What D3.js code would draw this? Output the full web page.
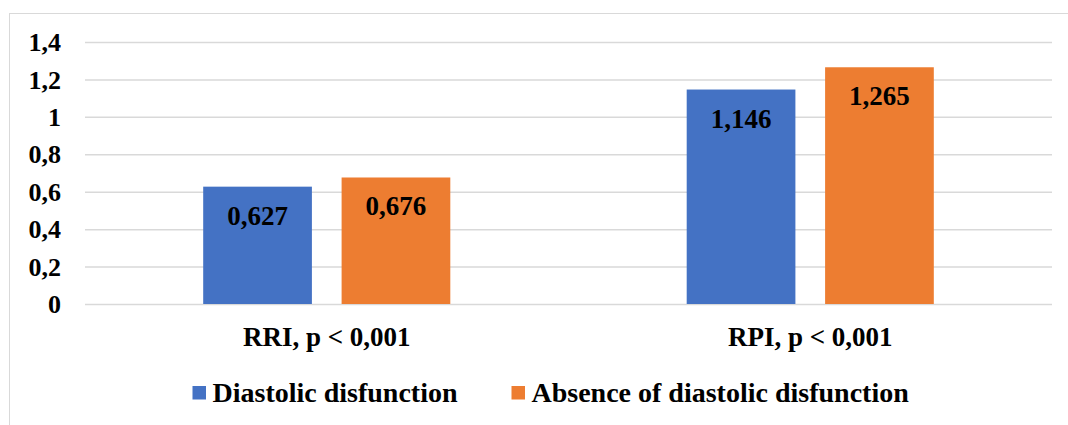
<!DOCTYPE html>
<html>
<head>
<meta charset="utf-8">
<script src="https://cdn.jsdelivr.net/npm/d3@7"></script>
<style>
  html, body { margin: 0; padding: 0; background: #ffffff; }
  svg { display: block; }
</style>
</head>
<body>
<svg id="chart" width="1068" height="425"></svg>
<script>
// Renal resistive (RRI) and pulsatility (RPI) indices by group
const categories = ["RRI, p < 0,001", "RPI, p < 0,001"];
const seriesNames = ["Diastolic disfunction", "Absence of diastolic disfunction"];
const diastolic = [0.627, 1.146];
const absence = [0.676, 1.265];
const tickValues = [0, 0.2, 0.4, 0.6, 0.8, 1, 1.2, 1.4];
const tickLabels = ["0", "0,2", "0,4", "0,6", "0,8", "1", "1,2", "1,4"];
const colors = ["#4472C4", "#ED7D31"];

const FONT = "Liberation Serif, DejaVu Serif, serif";

const svg = d3.select("#chart");
const W = 1068, H = 425;

// chart frame
svg.append("rect")
  .attr("x", 9.5).attr("y", 13.5)
  .attr("width", W + 10).attr("height", H + 10)
  .attr("fill", "#fff").attr("stroke", "#d9d9d9").attr("stroke-width", 1);

const plot = { left: 85, right: 1052, top: 42, bottom: 304 };

const y = d3.scaleLinear().domain([0, 1.4]).range([plot.bottom, plot.top]);
const x0 = d3.scaleBand().domain(categories).range([plot.left, plot.right]).padding(0);
const x1 = d3.scaleBand().domain(seriesNames)
  .range([0, x0.bandwidth()])
  .paddingInner(0.2146).paddingOuter(0.854);

const comma = d3.formatLocale({ decimal: ",", thousands: " ", grouping: [3], currency: ["", ""] });
const fmtVal = comma.format(".3f");

// gridlines and value axis labels
const yAxis = d3.axisLeft(y).tickValues(tickValues)
  .tickFormat((d, i) => tickLabels[i])
  .tickSize(-(plot.right - plot.left)).tickPadding(24);
const gy = svg.append("g").attr("transform", `translate(${plot.left},0)`).call(yAxis)
  .attr("font-family", FONT);
gy.select(".domain").remove();
gy.selectAll(".tick line").attr("stroke", "#d9d9d9").attr("stroke-width", 1.5);
gy.selectAll(".tick text")
  .style("font-family", FONT)
  .attr("font-weight", "bold")
  .attr("font-size", 26)
  .attr("fill", "#000")
  .attr("dy", "0.33em")
  .attr("x", 61 - plot.left)
  .attr("text-anchor", "end");

// bars
const rows = categories.map((c, i) => ({ cat: c, vals: [diastolic[i], absence[i]] }));
const groups = svg.append("g").selectAll("g").data(rows).join("g")
  .attr("transform", d => `translate(${x0(d.cat)},0)`);

groups.selectAll("rect").data(d => d.vals.map((v, j) => ({ name: seriesNames[j], v, j })))
  .join("rect")
  .attr("x", d => x1(d.name))
  .attr("y", d => y(d.v))
  .attr("width", x1.bandwidth())
  .attr("height", d => y(0) - y(d.v))
  .attr("fill", d => colors[d.j]);

groups.selectAll("text.val").data(d => d.vals.map((v, j) => ({ name: seriesNames[j], v, j })))
  .join("text")
  .attr("class", "val")
  .attr("x", d => x1(d.name) + x1.bandwidth() / 2)
  .attr("y", d => y(d.v) + 38)
  .attr("text-anchor", "middle")
  .style("font-family", FONT)
  .attr("font-weight", "bold")
  .attr("font-size", 27)
  .text(d => fmtVal(d.v));

// category labels
svg.append("g").selectAll("text").data(categories).join("text")
  .attr("x", d => x0(d) + x0.bandwidth() / 2)
  .attr("y", 346)
  .attr("text-anchor", "middle")
  .style("font-family", FONT)
  .attr("font-weight", "bold")
  .attr("font-size", 27)
  .text(d => d);

// legend
const legendX = [192.5, 511.5];
const lg = svg.append("g").selectAll("g").data(seriesNames).join("g")
  .attr("transform", (d, i) => `translate(${legendX[i]},0)`);
lg.append("rect")
  .attr("x", 0).attr("y", 386)
  .attr("width", 13.5).attr("height", 13.5)
  .attr("fill", (d, i) => colors[i]);
lg.append("text")
  .attr("x", 20).attr("y", 402)
  .style("font-family", FONT)
  .attr("font-weight", "bold")
  .attr("font-size", 28)
  .text(d => d);
</script>
</body>
</html>
